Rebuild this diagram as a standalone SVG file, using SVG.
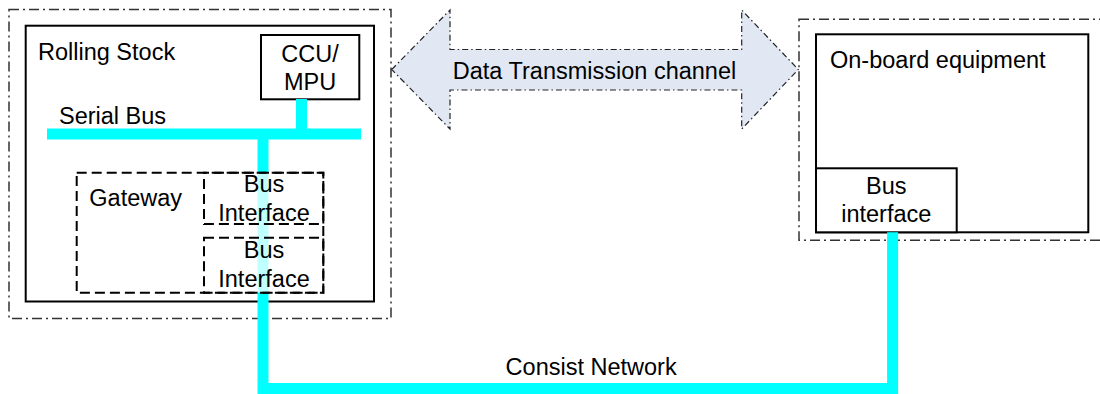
<svg xmlns="http://www.w3.org/2000/svg" width="1100" height="394" viewBox="0 0 1100 394">
<style>
.t{font-family:"Liberation Sans",Arial,sans-serif;font-size:23.5px;fill:#000}
.m{text-anchor:middle}
.outer{fill:none;stroke:#333;stroke-width:1.5;stroke-dasharray:10 4 2 4}
.solid{fill:#fff;stroke:#000;stroke-width:2}
.dash{fill:none;stroke:#000;stroke-width:2;stroke-dasharray:10 5}
.bus{fill:none;stroke:#00FFFF;stroke-width:11}
</style>
<rect width="1100" height="394" fill="#fff"/>
<g id="rolling-stock">
<rect class="outer" x="9" y="9.5" width="382" height="309"/>
<rect class="solid" x="25.7" y="25.7" width="348.3" height="275.8"/>
<text class="t" x="38" y="60">Rolling Stock</text>
</g>
<g id="ccu-mpu">
<rect class="solid" x="261" y="35" width="98.3" height="64.3"/>
<text class="t m" x="310" y="62">CCU/</text>
<text class="t m" x="310" y="90">MPU</text>
</g>
<g id="onboard">
<rect class="outer" x="799" y="19.3" width="320" height="221"/>
<rect class="solid" x="816" y="34.3" width="272.3" height="198"/>
<text class="t" x="830" y="68.3">On-board equipment</text>
</g>
<g id="bus-interface-right">
<rect class="solid" x="816" y="168.3" width="140.7" height="64"/>
<text class="t m" x="886.3" y="194.3">Bus</text>
<text class="t m" x="886.3" y="221.7">interface</text>
</g>
<g id="data-channel">
<path d="M391.7,69.5 L450,10 L450,49.5 L741.7,49.5 L741.7,10 L798.3,69.5 L741.7,129 L741.7,90 L450,90 L450,129 Z" fill="#E1E8F4" stroke="#222" stroke-width="1.2" stroke-dasharray="6 3 1.5 3"/>
<text class="t m" x="594.5" y="79">Data Transmission channel</text>
</g>
<g id="connectors">
<line class="bus" x1="47" y1="134" x2="361" y2="134"/>
<line class="bus" x1="301.5" y1="99" x2="301.5" y2="134"/>
<polyline class="bus" points="263,134 263,388.5 892.6,388.5 892.6,232.3"/>
<text class="t" x="505.6" y="375">Consist Network</text>
<text class="t" x="59" y="124">Serial Bus</text>
</g>
<g id="gateway">
<rect x="76.7" y="172.7" width="246.6" height="120" fill="#fff" fill-opacity="0.75" stroke="#000" stroke-width="2" stroke-dasharray="10 5"/>
<text class="t" x="89.3" y="206">Gateway</text>
</g>
<g id="bus-interface-1">
<rect class="dash" x="204" y="172.7" width="119.3" height="51.3" stroke-dashoffset="5"/>
<text class="t m" x="264" y="191.7">Bus</text>
<text class="t m" x="264" y="220.7">Interface</text>
</g>
<g id="bus-interface-2">
<rect class="dash" x="204" y="237.7" width="119.3" height="55"/>
<text class="t m" x="264" y="258.3">Bus</text>
<text class="t m" x="264" y="287.3">Interface</text>
</g>
</svg>
